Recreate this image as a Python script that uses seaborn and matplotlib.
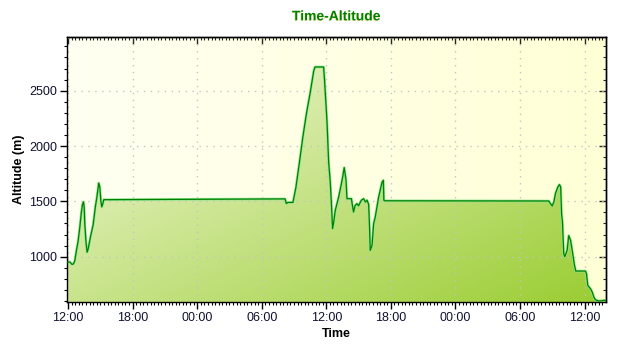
import numpy as np
import pandas as pd
import matplotlib
matplotlib.use("Agg")
import matplotlib.pyplot as plt
import matplotlib.dates as mdates
import matplotlib.patheffects as pe
from matplotlib.colors import LinearSegmentedColormap
import seaborn as sns

# ---------------- data ----------------
day1_times = ["11:54", "12:10", "12:22", "12:30", "12:37", "12:47", "12:56", "13:05",
              "13:14", "13:20", "13:26", "13:30", "13:33", "13:40", "13:46", "13:52",
              "14:05", "14:20", "14:32", "14:40", "14:51", "14:57", "15:03", "15:08",
              "15:14", "15:19"]
day1_alt = [950, 952, 930, 935, 960, 1060, 1140, 1260,
            1400, 1470, 1495, 1440, 1300, 1130, 1040, 1070,
            1180, 1290, 1450, 1530, 1665, 1630, 1500, 1450,
            1480, 1515]

day2_times = ["08:10", "08:17", "08:25", "08:54", "09:10", "09:30", "09:50", "10:10",
              "10:30", "10:50", "10:57", "11:45", "11:50", "12:04", "12:13", "12:22",
              "12:28", "12:35", "12:42", "12:50", "13:09", "13:28", "13:40", "13:50",
              "13:55", "14:20", "14:27", "14:32", "14:40", "14:51", "15:00", "15:15",
              "15:28", "15:38", "15:47", "15:56", "16:01", "16:05", "16:15", "16:24",
              "16:33", "16:52", "17:11", "17:18", "17:21", "17:26"]
day2_alt = [1522, 1480, 1490, 1490, 1620, 1850, 2090, 2300,
            2480, 2680, 2714, 2714, 2600, 2217, 1855, 1674,
            1494, 1253, 1320, 1418, 1539, 1690, 1805, 1690,
            1524, 1524, 1449, 1403, 1460, 1479, 1460, 1509,
            1524, 1494, 1510, 1473, 1268, 1057, 1102, 1298,
            1358, 1539, 1674, 1690, 1509, 1505]

day3_times = ["08:41", "08:50", "09:00", "09:09", "09:18", "09:31", "09:40", "09:47",
              "09:52", "09:57", "10:04", "10:10", "10:23", "10:32", "10:42", "10:49",
              "10:57", "11:04", "11:11", "12:05", "12:11", "12:18", "12:33", "12:43",
              "12:52", "13:01", "13:20", "13:48", "13:57"]
day3_alt = [1503, 1479, 1458, 1494, 1570, 1629, 1651, 1630,
            1389, 1313, 1027, 1000, 1057, 1190, 1150, 1080,
            996, 921, 870, 870, 846, 740, 711, 680,
            635, 611, 599, 605, 605]

days = ["2013-08-10", "2013-08-11", "2013-08-12"]
y_min, y_max = 590, 2985
y_major = [1000, 1500, 2000, 2500]

times = ([pd.Timestamp(f"{days[0]} {t}") for t in day1_times] +
         [pd.Timestamp(f"{days[1]} {t}") for t in day2_times] +
         [pd.Timestamp(f"{days[2]} {t}") for t in day3_times])
alts = day1_alt + day2_alt + day3_alt
df = pd.DataFrame({"Time": times, "Altitude": alts})
df["x"] = mdates.date2num(df["Time"])

# ---------------- figure ----------------
sns.set_theme(style="ticks")
plt.rcParams["font.family"] = ["Liberation Sans", "DejaVu Sans"]

fig = plt.figure(figsize=(6.4, 3.5), dpi=100, facecolor="white")
ax = fig.add_axes([0.1047, 0.137, 0.8414, 0.7573])
ax.set_facecolor("none")

x0, x1 = df["x"].iloc[0], df["x"].iloc[-1]

# background gradient (light cream -> pale yellow)
bg_cmap = LinearSegmentedColormap.from_list("bg", ["#FFFFF2", "#FFFFD6"])
grad = np.linspace(0, 1, 256).reshape(1, -1)
ax.imshow(grad, cmap=bg_cmap, aspect="auto", extent=[x0, x1, y_min, y_max],
          zorder=0, interpolation="bicubic")

# filled area with diagonal gradient
fill = ax.fill_between(df["x"], df["Altitude"], y_min, facecolor="none",
                       edgecolor="none", zorder=1)
gx, gy = np.meshgrid(np.linspace(0, 1, 300), np.linspace(1, 0, 200))
g = (gx + (1 - gy)) / 2.0
fill_cmap = LinearSegmentedColormap.from_list("fill", ["#F8FBE6", "#9ACD32"])
im = ax.imshow(g, cmap=fill_cmap, aspect="auto", extent=[x0, x1, y_min, y_max],
               zorder=1, interpolation="bicubic")
im.set_clip_path(fill.get_paths()[0], transform=ax.transData)

# grid
gridkw = dict(color="#C4C4C4", lw=1, ls=(0, (1, 4)), zorder=1.5)
for yv in y_major:
    ax.axhline(yv, **gridkw)
xt = pd.date_range(f"{days[0]} 12:00", f"{days[2]} 12:00", freq="6h")
for t in mdates.date2num(xt):
    ax.axvline(t, **gridkw)

# edge highlight and main line
ax.plot(df["x"], df["Altitude"], color="#8FE68F", lw=1.9, zorder=2)
sns.lineplot(data=df, x="x", y="Altitude", ax=ax, color="#008000", lw=0.9,
             zorder=3, estimator=None, sort=False)

ax.set_xlim(x0, x1)
ax.set_ylim(y_min, y_max)

# ticks
ax.xaxis.set_major_locator(mdates.HourLocator(byhour=[0, 6, 12, 18]))
ax.xaxis.set_major_formatter(mdates.DateFormatter("%H:%M"))
ax.xaxis.set_minor_locator(mdates.MinuteLocator(byminute=[0, 20, 40]))
ax.yaxis.set_major_locator(matplotlib.ticker.FixedLocator(y_major))
ax.yaxis.set_minor_locator(matplotlib.ticker.MultipleLocator(100))

lblc = "#101030"
ax.tick_params(axis="both", which="major", direction="out", length=5, width=1,
               color="black", labelsize=9, labelcolor=lblc, pad=2)
ax.tick_params(axis="both", which="minor", direction="out", length=2.5, width=0.8,
               color="black")

# mirrored inward ticks on top/right
secx = ax.secondary_xaxis("top")
secx.xaxis.set_major_locator(mdates.HourLocator(byhour=[0, 6, 12, 18]))
secx.xaxis.set_minor_locator(mdates.MinuteLocator(byminute=[0, 20, 40]))
secx.tick_params(which="major", direction="in", length=5, width=1, labeltop=False)
secx.tick_params(which="minor", direction="in", length=2.5, width=0.8)
secy = ax.secondary_yaxis("right")
secy.yaxis.set_major_locator(matplotlib.ticker.FixedLocator(y_major))
secy.yaxis.set_minor_locator(matplotlib.ticker.MultipleLocator(100))
secy.tick_params(which="major", direction="in", length=5, width=1, labelright=False)
secy.tick_params(which="minor", direction="in", length=2.5, width=0.8)

for sp in ax.spines.values():
    sp.set_color("black")
    sp.set_linewidth(1)
for s in (secx, secy):
    for sp in s.spines.values():
        sp.set_color("black")
        sp.set_linewidth(1)

ax.set_xlabel("Time", fontsize=9, fontweight="bold", color="black", labelpad=3)
ax.set_ylabel("Altitude (m)", fontsize=9, fontweight="bold", color="black", labelpad=3)

title = ax.set_title("Time-Altitude", fontsize=10, fontweight="bold", color="#008000",
                     pad=12)
title.set_path_effects([pe.SimplePatchShadow(offset=(-0.5, -0.5),
                                             shadow_rgbFace="#E0D040", alpha=0.5),
                        pe.Normal()])

fig.savefig("out.png", dpi=100, facecolor="white")
